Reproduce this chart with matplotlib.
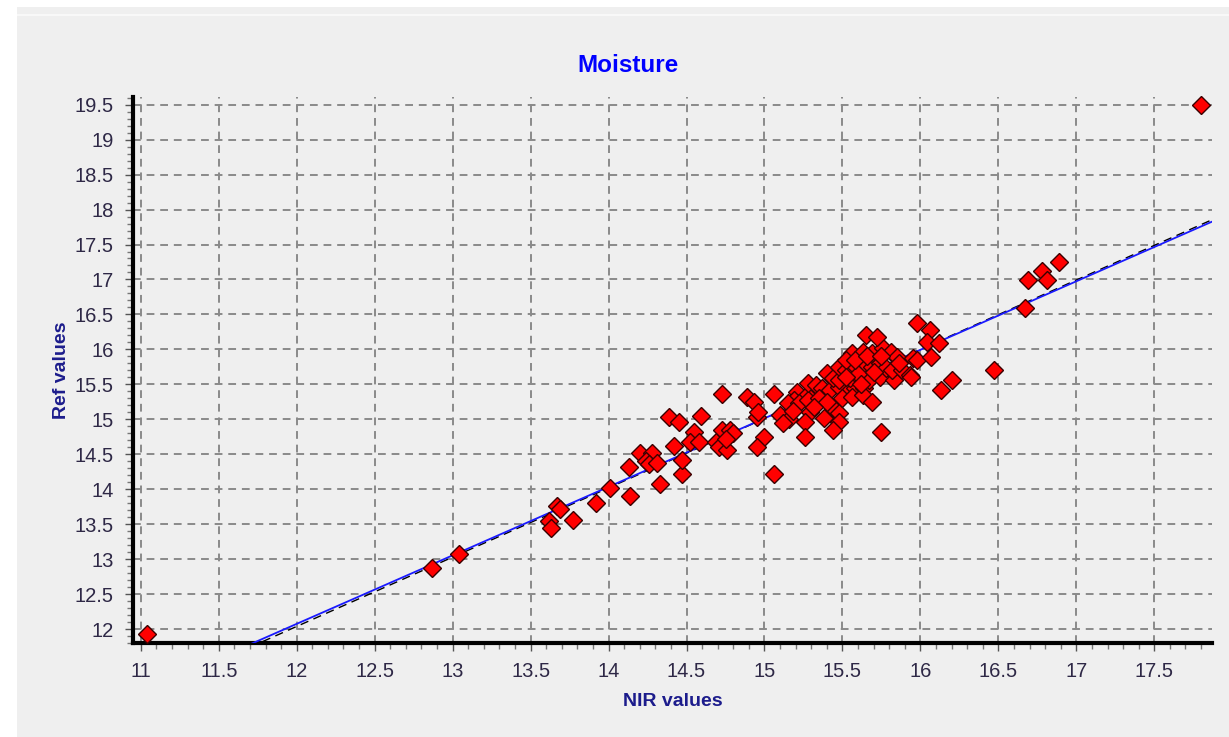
import matplotlib
matplotlib.use("Agg")
import matplotlib.pyplot as plt
from matplotlib.ticker import MultipleLocator, FuncFormatter
from matplotlib.patches import Rectangle
import numpy as np

title = "Moisture"
x_label = "NIR values"
y_label = "Ref values"

nir = [11.04, 17.80, 12.87, 13.04,
       13.62, 13.63, 13.67, 13.69, 13.77, 13.92,
       14.01, 14.14, 14.13, 14.20, 14.28, 14.24, 14.26, 14.31, 14.33, 14.47,
       14.47, 14.42, 14.39, 14.45, 14.59, 14.55, 14.52, 14.58, 14.69, 14.71,
       14.76, 14.73, 14.78, 14.73, 14.80, 14.75,
       14.89, 14.93, 14.95, 15.00, 14.95, 15.06, 15.06, 14.96,
       15.10, 15.16, 15.12, 15.29, 15.26, 15.38, 15.45, 15.48, 15.48, 15.44, 15.26, 15.75,
       15.21, 15.27, 15.19, 15.15, 15.22, 15.28,
       15.28, 15.33, 15.37, 15.42, 15.48, 15.55, 15.58, 15.64, 15.50, 15.56, 15.63, 15.69,
       15.40, 15.44, 15.48, 15.55, 15.61, 15.67, 15.74, 15.83,
       15.48, 15.52, 15.59, 15.64, 15.69, 15.74, 15.78, 15.82, 15.88, 15.93,
       15.56, 15.52, 15.63, 15.69, 15.76, 15.81, 15.85, 15.95,
       15.65, 15.72, 15.98, 16.06, 16.04, 16.12, 15.98, 16.07, 16.47, 16.20, 16.13, 15.94,
       16.89, 16.78, 16.69, 16.81, 16.67,
       15.35, 15.60, 15.70, 15.58, 15.66, 15.40, 15.52, 15.62, 15.75, 15.86, 15.18, 15.32]
ref = [11.93, 19.50, 12.87, 13.08,
       13.55, 13.44, 13.76, 13.72, 13.56, 13.80,
       14.02, 13.90, 14.32, 14.52, 14.52, 14.40, 14.36, 14.38, 14.08, 14.22,
       14.42, 14.62, 15.03, 14.96, 15.05, 14.82, 14.68, 14.68, 14.68, 14.60,
       14.56, 14.85, 14.85, 15.36, 14.80, 14.72,
       15.32, 15.25, 15.03, 14.75, 14.60, 14.22, 15.36, 15.10,
       15.06, 15.00, 14.95, 15.10, 14.96, 15.02, 15.13, 15.09, 14.96, 14.85, 14.75, 14.82,
       15.39, 15.35, 15.28, 15.23, 15.23, 15.28,
       15.52, 15.49, 15.45, 15.42, 15.46, 15.42, 15.45, 15.45, 15.30, 15.32, 15.35, 15.25,
       15.66, 15.59, 15.56, 15.59, 15.59, 15.56, 15.60, 15.56,
       15.75, 15.71, 15.75, 15.81, 15.75, 15.81, 15.73, 15.71, 15.71, 15.63,
       15.95, 15.85, 15.96, 15.95, 16.02, 15.96, 15.89, 15.88,
       16.21, 16.18, 16.38, 16.28, 16.11, 16.09, 15.85, 15.89, 15.70, 15.56, 15.42, 15.61,
       17.25, 17.12, 16.99, 16.99, 16.59,
       15.30, 15.65, 15.68, 15.85, 15.90, 15.25, 15.60, 15.50, 15.90, 15.80, 15.12, 15.18]

# fitted lines (slope, intercept)
fit_slope, fit_intercept = 0.980, 0.314
ref_slope, ref_intercept = 0.991, 0.145
fit_x_start, x_max = 11.70, 17.87

x_lim = (10.95, 17.87)
y_lim = (11.80, 19.61)

W, H = 1229, 737
fig = plt.figure(figsize=(W / 100, H / 100), dpi=100)
fig.patch.set_facecolor("white")
fig.add_artist(Rectangle((17 / W, 0), 1, 1 - 7 / H, transform=fig.transFigure,
                         facecolor="#efefef", edgecolor="none", zorder=-10))
fig.add_artist(Rectangle((17 / W, 1 - 16 / H), 1, 2 / H, transform=fig.transFigure,
                         facecolor="#f8f8f8", edgecolor="none", zorder=-9))

L, R, T, B = 133, 1212, 97, 643
ax = fig.add_axes([L / W, 1 - B / H, (R - L) / W, (B - T) / H])
ax.patch.set_alpha(0)

ax.set_xlim(*x_lim)
ax.set_ylim(*y_lim)

ax.xaxis.set_major_locator(MultipleLocator(0.5))
ax.xaxis.set_minor_locator(MultipleLocator(0.1))
ax.yaxis.set_major_locator(MultipleLocator(0.5))
ax.yaxis.set_minor_locator(MultipleLocator(0.1))
fmt = FuncFormatter(lambda v, p: ("%g" % round(v, 2)))
ax.xaxis.set_major_formatter(fmt)
ax.yaxis.set_major_formatter(fmt)

for s in ["top", "right"]:
    ax.spines[s].set_visible(False)
for s in ["left", "bottom"]:
    ax.spines[s].set_linewidth(3)
    ax.spines[s].set_color("black")

tick_color = "#2e2846"
ax.tick_params(axis="both", which="major", length=6, width=1, color="#555555",
               labelsize=14.5, labelcolor=tick_color, direction="out", pad=8)
ax.tick_params(axis="both", which="minor", length=4, width=1, color="#777777",
               direction="out")
for lab in ax.get_xticklabels() + ax.get_yticklabels():
    lab.set_fontfamily("Liberation Sans")

ax.grid(True, which="major", color="#8a8a8a", linestyle=(0, (4, 3)), linewidth=1.4)
ax.set_axisbelow(True)

xs = np.array([fit_x_start, x_max])
ax.plot(xs, ref_slope * xs + ref_intercept, color="black", linewidth=1.0,
        linestyle=(0, (6, 4)), zorder=2)
ax.plot(xs, fit_slope * xs + fit_intercept, color="#1a1aff", linewidth=1.3, zorder=3)

ax.plot(nir, ref, linestyle="none", marker="D", markersize=9.5,
        markerfacecolor="#ff0000", markeredgecolor="#3a0000", markeredgewidth=1.0,
        zorder=4, clip_on=False)

ax.set_xlabel(x_label, fontsize=14, fontweight="bold", color="#1c1c8c",
              family="Liberation Sans", labelpad=8)
ax.set_ylabel(y_label, fontsize=14, fontweight="bold", color="#1c1c8c",
              family="Liberation Sans", labelpad=3)

fig.text(628 / W, 1 - 66 / H, title, ha="center", va="center", fontsize=17.5,
         fontweight="bold", color="#0000ff", family="Liberation Sans")

fig.savefig("out.png", dpi=100, facecolor=fig.get_facecolor())
